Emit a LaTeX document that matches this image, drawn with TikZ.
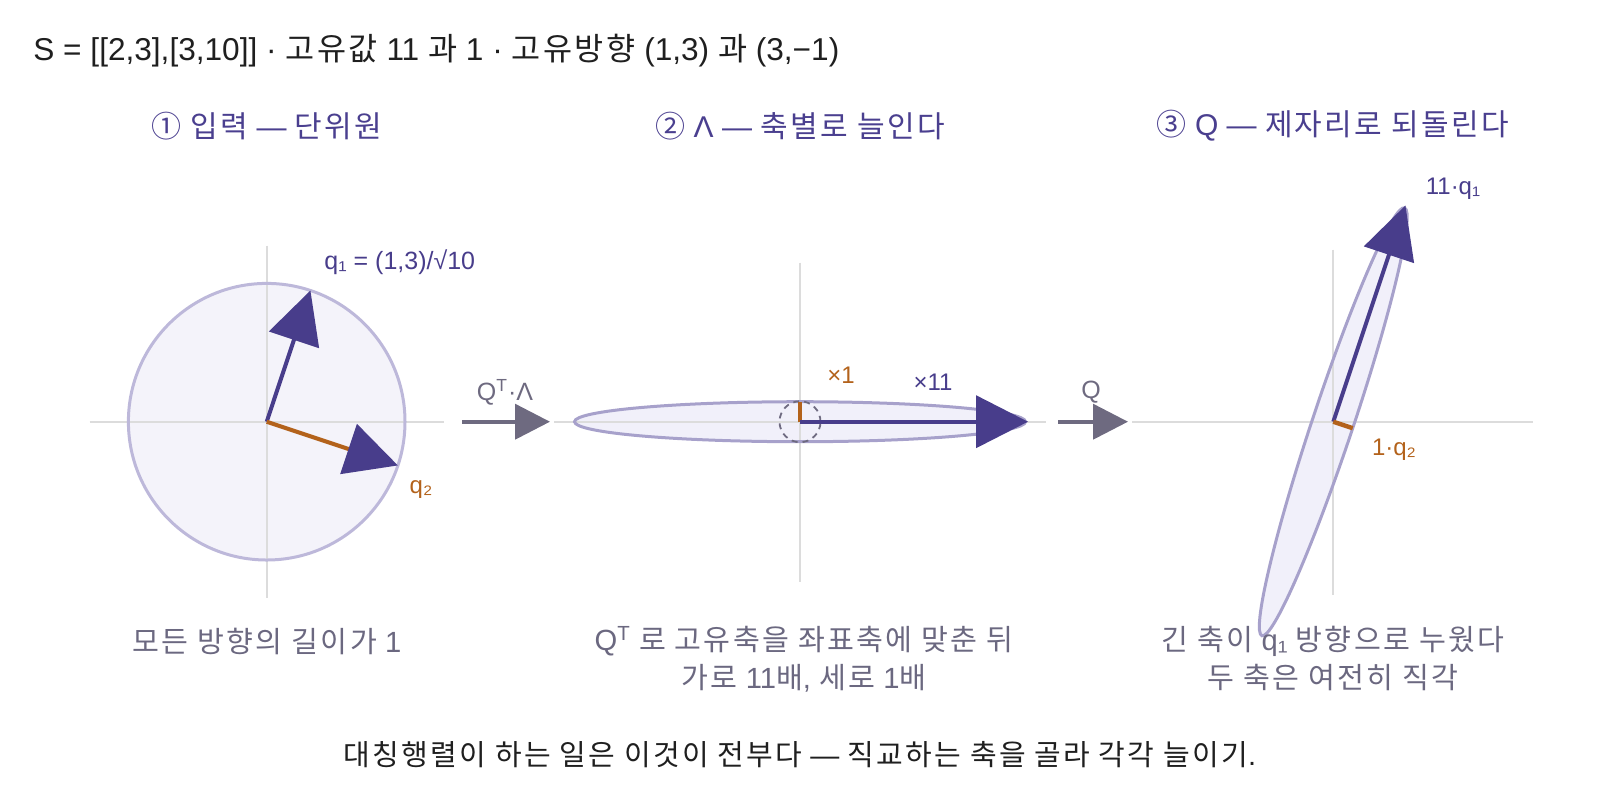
\documentclass[tikz,border=0pt]{standalone}
\usepackage{fontspec}
\setmainfont{Liberation Sans}
\newfontfamily\kr[Scale=1.0,LetterSpace=8]{Noto Sans CJK KR}
\usetikzlibrary{arrows.meta,calc}

\definecolor{qpurple}{HTML}{483D8B}
\definecolor{headpurple}{HTML}{4A3F8F}
\definecolor{qorange}{HTML}{B3621B}
\definecolor{capgray}{HTML}{6B6880}
\definecolor{arrowgray}{HTML}{6E6A80}
\definecolor{axisgray}{HTML}{DCDCDC}
\definecolor{circfill}{HTML}{F4F3FA}
\definecolor{circline}{HTML}{BDB8DA}
\definecolor{ellfill}{HTML}{F1F0FA}
\definecolor{ellline}{HTML}{A7A1CB}
\definecolor{titleink}{HTML}{1F1F1F}

\begin{document}
\begin{tikzpicture}[x=0.5pt,y=-0.5pt]
        \useasboundingbox (0,0) rectangle (1600,800);

        % Origins of the three panels.
        \coordinate (O1) at (266.7,421.7);
        \coordinate (O2) at (800,421.7);
        \coordinate (O3) at (1333.3,421.7);

        % Tips of the vectors.
        \coordinate (q1tip) at ($(O1)+(71.565:69.15pt)$);
        \coordinate (q2tip) at ($(O1)+(-18.435:69.15pt)$);
        \coordinate (e1tip) at ($(O2)+(0:114pt)$);
        \coordinate (e2tip) at ($(O2)+(90:10pt)$);
        \coordinate (r1tip) at ($(O3)+(71.565:114pt)$);
        \coordinate (r2tip) at ($(O3)+(-18.435:10.25pt)$);

        % Ends of the arrows between the panels.
        \coordinate (QLs) at (462,421.7);
        \coordinate (QLe) at (550,421.7);
        \coordinate (Qs) at (1058,421.7);
        \coordinate (Qe) at (1128,421.7);

        \begin{scope}[%
            axis/.style = {%
                draw = axisgray,
                line width = 1pt
            }
        ]

            % Fills of the shapes.
            \fill [circfill] (O1) circle [radius = 69.15pt];
            \fill [ellfill] (O2) ellipse [x radius = 112.75pt, y radius = 10pt];
            \fill [ellfill, rotate around = {71.565:(O3)}] (O3)
                ellipse [x radius = 112.75pt, y radius = 10.25pt];

            % Axes.
            \draw [axis] ($(O1)+(-177,0)$) -- ($(O1)+(177,0)$);
            \draw [axis] ($(O1)+(0,-176)$) -- ($(O1)+(0,176)$);
            \draw [axis] ($(O2)+(-246,0)$) -- ($(O2)+(246,0)$);
            \draw [axis] ($(O2)+(0,-159)$) -- ($(O2)+(0,160)$);
            \draw [axis] ($(O3)+(-201,0)$) -- ($(O3)+(200,0)$);
            \draw [axis] ($(O3)+(0,-172)$) -- ($(O3)+(0,173)$);

            % Outlines of the shapes.
            \draw [circline, line width = 1.5pt] (O1) circle [radius = 69.15pt];
            \draw [ellline, line width = 1.5pt] (O2)
                ellipse [x radius = 112.75pt, y radius = 10pt];
            \draw [ellline, line width = 1.5pt, rotate around = {71.565:(O3)}] (O3)
                ellipse [x radius = 112.75pt, y radius = 10.25pt];
            \draw [arrowgray, line width = 0.9pt, dash pattern = on 3pt off 2.5pt]
                (O2) circle [radius = 10.25pt];
        \end{scope}

        \begin{scope}[%
            vec/.style = {%
                draw = qpurple,
                line width = 2pt,
                -{Triangle[length = 26pt, width = 26pt, color = qpurple]}
            },
            unit/.style = {%
                draw = qorange,
                line width = 2.2pt
            },
            step arrow/.style = {%
                draw = arrowgray,
                line width = 2pt,
                -{Triangle[length = 17.5pt, width = 17.5pt]}
            }
        ]

            % Vectors.
            \draw [vec] (O1) -- (q1tip);
            \draw [vec, draw = qorange] (O1) -- (q2tip);
            \draw [unit] (O2) -- (e2tip);
            \draw [vec] (O2) -- (e1tip);
            \draw [vec] (O3) -- (r1tip);
            \draw [unit] (O3) -- (r2tip);

            % Arrows between the panels.
            \draw [step arrow] (QLs) -- (QLe);
            \draw [step arrow] (Qs) -- (Qe);
        \end{scope}

        \begin{scope}[%
            every node/.style = {%
                inner sep = 0pt
            },
            head/.style = {%
                text = headpurple,
                font = \fontsize{15}{18}\selectfont
            },
            caption/.style = {%
                text = capgray,
                align = center,
                font = \fontsize{14.6}{19}\selectfont
            },
            lbl/.style = {%
                font = \fontsize{12}{14}\selectfont
            }
        ]

            % Title and headings.
            \node [anchor = west, text = titleink, font = \fontsize{15.8}{18}\selectfont]
                (title) at (33,51)
                {S = [[2,3],[3,10]] · {\kr 고유값} 11 {\kr 과} 1 · {\kr 고유방향} (1,3) {\kr 과} (3,−1)};
            \node [head] (head1) at (267,126) {{\kr ① 입력} — {\kr 단위원}};
            \node [head] (head2) at (800,126) {{\kr ②} Λ — {\kr 축별로 늘인다}};
            \node [head] (head3) at (1333,126) {{\kr ③} Q — {\kr 제자리로 되돌린다}};

            % Labels of the vectors.
            \node [lbl, text = qpurple, anchor = west, font = \fontsize{12.5}{14}\selectfont]
                (q1lab) at (324,262) {q₁ = (1,3)/√10};
            \node [lbl, text = qorange] (q2lab) at (421,490) {q₂};
            \node [lbl, text = qorange] (x1lab) at (841,375) {×1};
            \node [lbl, text = qpurple] (x11lab) at (933,382) {×11};
            \node [lbl, text = qpurple] (r1lab) at (1453,189) {11·q₁};
            \node [lbl, text = qorange] (r2lab) at (1394,450) {1·q₂};
            \node [lbl, text = arrowgray, font = \fontsize{12.5}{14}\selectfont]
                (QLlab) at (505,392) {Q\textsuperscript{T}·Λ};
            \node [lbl, text = arrowgray, font = \fontsize{12.5}{14}\selectfont]
                (Qlab) at (1091,392) {Q};

            % Captions.
            \node [caption] (cap1) at (267,641) {{\kr 모든 방향의 길이가} 1};
            \node [caption, anchor = north] (cap2) at (804,626)
                {Q\textsuperscript{T} {\kr 로 고유축을 좌표축에 맞춘 뒤}\\
                 {\kr 가로} 11{\kr 배}, {\kr 세로} 1{\kr 배}};
            \node [caption, anchor = north] (cap3) at (1333,626)
                {{\kr 긴 축이} q₁ {\kr 방향으로 누웠다}\\
                 {\kr 두 축은 여전히 직각}};
            \node [text = titleink, font = \fontsize{14.5}{16}\selectfont]
                (bottom) at (800,755)
                {{\kr 대칭행렬이 하는 일은 이것이 전부다} — {\kr 직교하는 축을 골라 각각 늘이기}.};
        \end{scope}
\end{tikzpicture}
\end{document}
